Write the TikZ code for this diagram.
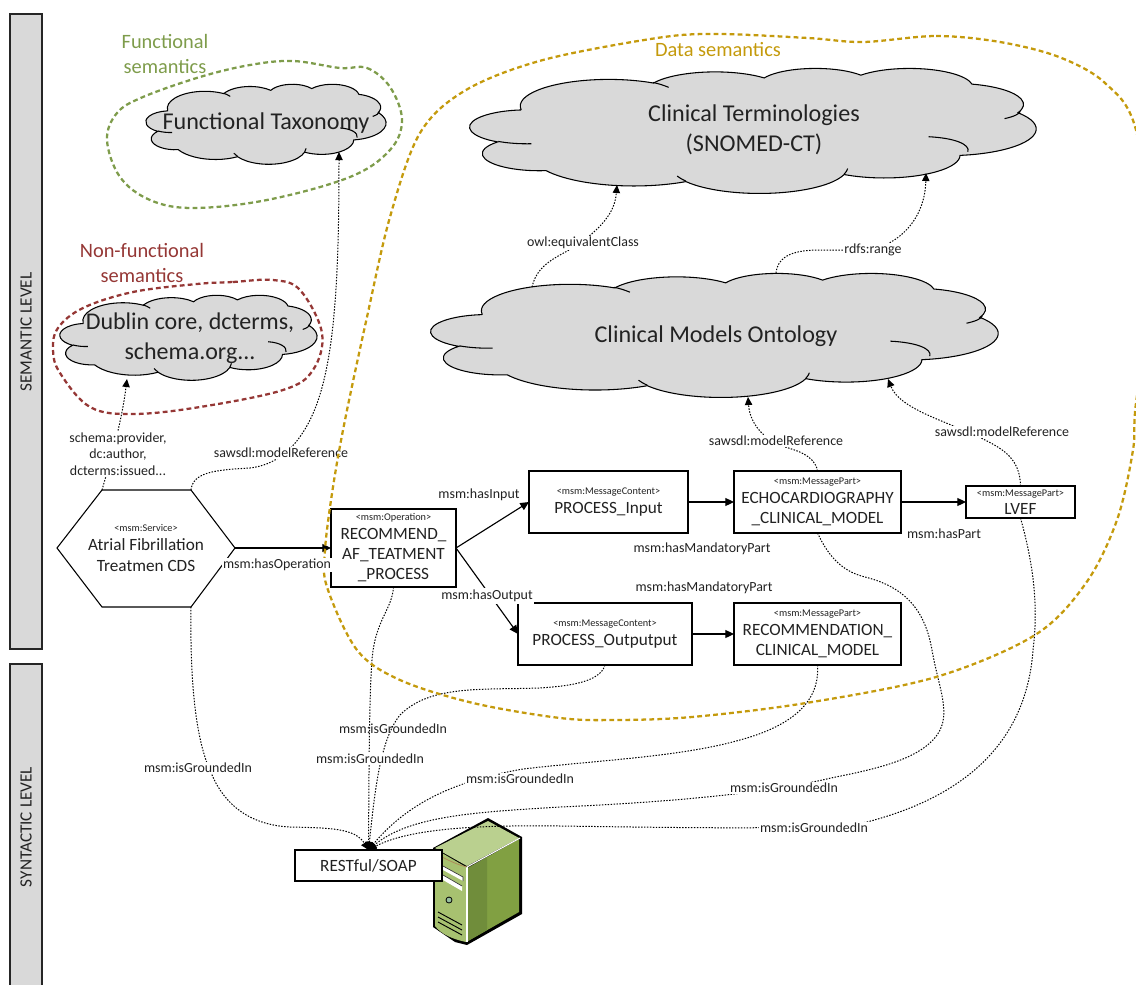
\documentclass[tikz,border=0pt]{standalone}
\usepackage{fontspec}
\setmainfont{Carlito}
\usetikzlibrary{arrows.meta}
\definecolor{cloudgray}{HTML}{D9D9D9}
\definecolor{goldline}{HTML}{C49A0C}
\definecolor{greenline}{HTML}{7E9C4B}
\definecolor{redline}{HTML}{953735}
\definecolor{textdark}{HTML}{222222}
\newcommand{\stereo}[1]{{\fontsize{7.7}{9}\selectfont #1}}
% one arc of the cloud outline: radii and angles of the outline, y pointing down
\newcommand{\carc}[4]{%
  \pgfmathsetmacro\tA{atan2(#1*sin(#3),#2*cos(#3))}%
  \pgfmathsetmacro\tB{atan2(#1*sin(#3+#4),#2*cos(#3+#4))}%
  \pgfmathsetmacro\tB{\tB<\tA ? \tB+360 : \tB}%
  \pgfpatharc{\tA}{\tB}{#1pt and #2pt}}
\newcommand{\cloudshape}[4]{%
  \begin{scope}[shift={(#1,#2)},xscale={.75*#3/432},yscale={-.75*#4/432}]
    \pgfsetlinewidth{.8pt}\pgfsetfillcolor{cloudgray}\pgfsetstrokecolor{black}
    \pgfpathmoveto{\pgfpoint{39pt}{143.7pt}}
    \carc{67.53}{91.9}{-190.49}{123.78}
    \carc{53.33}{72.67}{-144.10}{89.95}
    \carc{43.65}{59.45}{-145.81}{99.72}
    \carc{48.57}{65.95}{-130.99}{117.24}
    \carc{53.33}{72.73}{-78.71}{109.03}
    \carc{67.75}{92.2}{-46.27}{130.27}
    \carc{57.85}{78.67}{0.625}{114.03}
    \carc{67.52}{92.15}{22.45}{115.17}
    \carc{77.2}{105.43}{66.24}{75.71}
    \carc{43.6}{59.18}{-274.94}{146.74}
    \carc{43.45}{59.45}{-246.83}{152.52}
    \pgfpathclose
    \pgfusepath{fill,stroke}
    \pgfpathmoveto{\pgfpoint{46.93pt}{261.77pt}}\carc{43.45}{59.45}{86.74}{26.43}\pgfusepath{stroke}
    \pgfpathmoveto{\pgfpoint{164.78pt}{390.9pt}}\carc{67.52}{92.15}{137.63}{14.08}\pgfusepath{stroke}
    \pgfpathmoveto{\pgfpoint{288.27pt}{347.51pt}}\carc{67.52}{92.15}{6.45}{16}\pgfusepath{stroke}
    \pgfpathmoveto{\pgfpoint{350pt}{237.5pt}}\pgfpathcurveto{\pgfpoint{370pt}{242pt}}{\pgfpoint{382pt}{264pt}}{\pgfpoint{380pt}{289.6pt}}\pgfusepath{stroke}
    \pgfpathmoveto{\pgfpoint{408pt}{175pt}}\pgfpathcurveto{\pgfpoint{415pt}{168pt}}{\pgfpoint{419pt}{160pt}}{\pgfpoint{420pt}{150pt}}\pgfusepath{stroke}
    \pgfpathmoveto{\pgfpoint{139.5pt}{49.8pt}}\pgfpathcurveto{\pgfpoint{144pt}{54pt}}{\pgfpoint{148pt}{60pt}}{\pgfpoint{151.6pt}{66.9pt}}\pgfusepath{stroke}
  \end{scope}}
\tikzset{
  px/.style={x=.75pt,y=-.75pt},
  dotlink/.style={line width=.75pt,dash pattern=on 1.1pt off 1.1pt,-{Triangle[length=6pt,width=5.5pt]}},
  solidlink/.style={line width=.85pt,-{Triangle[length=6.5pt,width=6pt]}},
  labeltext/.style={font=\fontsize{10.45}{12.5}\selectfont,text=textdark,fill=white,inner sep=.8pt,align=center},
  plainlabel/.style={font=\fontsize{10.45}{12.5}\selectfont,text=textdark,inner sep=.8pt},
  boxn/.style={draw=black,line width=.8pt,fill=white,inner sep=0pt,outer sep=0pt,align=center,font=\fontsize{12.9}{15.3}\selectfont,text=textdark},
  cloudtext/.style={font=\fontsize{18.1}{22.5}\selectfont,text=textdark,align=center,inner sep=0pt},
  titletext/.style={font=\fontsize{15.3}{18.75}\selectfont,align=center,inner sep=0pt},
  barshape/.style={draw=black!85,line width=.9pt,fill=cloudgray},
  bartext/.style={font=\fontsize{12.9}{15}\selectfont,text=textdark,rotate=90,inner sep=0pt},
  region/.style={line width=1.7pt,dash pattern=on 3.6pt off 2.4pt,line cap=butt}
}
\begin{document}
\begin{tikzpicture}[px]
\useasboundingbox (0,0) rectangle (1136,985);
\clip (0,0) rectangle (1136,985);
% level bars
\draw[barshape] (10,14) rectangle (42,649);
\draw[barshape] (10,664) rectangle (42,1000);
\node[bartext] (semlevel) at (26,332) {SEMANTIC LEVEL};
\node[bartext] (synlevel) at (26,827) {SYNTACTIC LEVEL};
% clouds
\cloudshape{146}{84}{240}{80}
\cloudshape{60}{295}{257}{85}
\cloudshape{470}{68}{566}{125}
\cloudshape{431}{273}{567}{124}
\node[cloudtext] (tax) at (266,123) {Functional Taxonomy};
\node[cloudtext,font=\fontsize{18}{22.5}\selectfont] (dublin) at (190,338) {Dublin core, dcterms,\\schema.org...};
\node[cloudtext] (term) at (754,130) {Clinical Terminologies\\(SNOMED-CT)};
\node[cloudtext] (models) at (716,336) {Clinical Models Ontology};
% region titles
\node[titletext,text=greenline] (tfunc) at (165,53.5) {Functional\\semantics};
\node[titletext,text=redline] (tnon) at (142,262.5) {Non-functional\\semantics};
\node[titletext,text=goldline] (tdata) at (718,50) {Data semantics};
% green and red regions
\draw[region,greenline] plot[smooth cycle,tension=.6] coordinates {(340,68) (367,68) (390,87) (402,120) (390,150) (350,177) (267,200) (193,208) (150,200) (120,177) (107,140) (117,113) (143,97) (200,77) (250,65) (293,61)};
\draw[region,redline] plot[smooth cycle,tension=.6] coordinates {(197,284) (233,282) (273,280) (300,290) (322,333) (313,370) (283,390) (200,407) (133,414) (90,407) (60,373) (53,350) (58,328) (83,308) (133,292)};
% named ends
\coordinate (hexL) at (57,548);
\coordinate (hexTL) at (102,490);
\coordinate (hexTR) at (191,490);
\coordinate (hexR) at (235,548);
\coordinate (hexBR) at (191,607);
\coordinate (hexBL) at (102,607);
\coordinate (dublinTip) at (127,379);
\coordinate (taxTip) at (339,152);
\coordinate (modelsTipA) at (748,397);
\coordinate (modelsTipB) at (888,379);
\coordinate (modelsTopA) at (532,287);
\coordinate (modelsTopB) at (776,273);
\coordinate (termTipA) at (617,185);
\coordinate (termTipB) at (926,173);
% server
\fill[black] (488,818) -- (522,837) -- (522,914) -- (467,945) -- (455,942) -- (433,927) -- (433,848) -- cycle;
\fill[fill={rgb,255:red,167;green,193;blue,112}] (435,849) -- (466,867) -- (466,942) .. controls (452,939) and (441,934) .. (435,926) -- cycle;
\fill[fill={rgb,255:red,186;green,208;blue,143}] (488,821) -- (519,838) -- (467,866) -- (435,848) -- cycle;
\fill[fill={rgb,255:red,129;green,160;blue,66}] (468,868) -- (519,839) -- (519,912) -- (468,941) -- cycle;
\fill[fill={rgb,255:red,112;green,141;blue,59}] (468,868) -- (487,857) -- (487,930) -- (468,941) -- cycle;
\draw[white,line width=.8pt] (467,867) -- (520,838);
\draw[white,line width=.8pt] (467,867) -- (467,942);
\draw[draw={rgb,255:red,175;green,140;blue,90},line width=.6pt] (442,857) .. controls (450,861) and (458,865) .. (467,867);
\fill[white] (443,866) -- (463,877) -- (463,881) -- (443,870) -- cycle;
\fill[white] (443,875) -- (462,886) -- (462,891) -- (443,880) -- cycle;
\draw[black!80,line width=.5pt] (443,866) -- (463,877) -- (463,881);
\draw[black!80,line width=.5pt] (443,875) -- (462,886);
\filldraw[fill={rgb,255:red,150;green,190;blue,160},draw=black,line width=.6pt] (449,900) circle (3);
\foreach \vy in {912,917,922}{\draw[black,line width=.7pt] (438,\vy) -- (462,\vy+13);}
% hexagon
\filldraw[draw=black,line width=.8pt,fill=white] (hexL) -- (hexTL) -- (hexTR) -- (hexR) -- (hexBR) -- (hexBL) -- cycle;
\node[align=center,inner sep=0pt,font=\fontsize{12.9}{15.7}\selectfont,text=textdark] (hex) at (146,548) {\stereo{<msm:Service>}\\[-1pt]Atrial Fibrillation\\Treatmen CDS};
% message boxes
\node[boxn,minimum width=125*.75pt,minimum height=78*.75pt] (op) at (393.5,548) {\stereo{<msm:Operation>}\\[-1.5pt]RECOMMEND\_\\AF\_TEATMENT\\\_PROCESS};
\node[boxn,minimum width=159*.75pt,minimum height=62*.75pt] (input) at (608.5,502) {\stereo{<msm:MessageContent>}\\[-1.5pt]PROCESS\_Input};
\node[boxn,minimum width=167*.75pt,minimum height=62*.75pt] (echo) at (817.5,502) {\stereo{<msm:MessagePart>}\\[-1.5pt]ECHOCARDIOGRAPHY\\\_CLINICAL\_MODEL};
\node[boxn,minimum width=109*.75pt,minimum height=32*.75pt] (lvef) at (1020.5,502) {\stereo{<msm:MessagePart>}\\[-1.5pt]LVEF};
\node[boxn,minimum width=174*.75pt,minimum height=62*.75pt] (output) at (605,634) {\stereo{<msm:MessageContent>}\\[-1.5pt]PROCESS\_Outputput};
\node[boxn,minimum width=167*.75pt,minimum height=62*.75pt] (rec) at (817.5,634) {\stereo{<msm:MessagePart>}\\[-1.5pt]RECOMMENDATION\_\\CLINICAL\_MODEL};
\node[boxn,minimum width=147*.75pt,minimum height=31*.75pt] (rest) at (368.5,865.5) {RESTful/SOAP};
% solid links
\draw[solidlink] (hexR) -- (op.west);
\draw[solidlink] (op.east) -- (input.west);
\draw[solidlink] (op.east) -- (output.west);
\draw[solidlink] (input.east) -- (echo.west);
\draw[solidlink] (echo.east) -- (lvef.west);
\draw[solidlink] (output.east) -- (rec.west);
% dotted links
\draw[dotlink] (hexTL) .. controls (112,455) and (122,420) .. (dublinTip);
\draw[dotlink] (hexTR) .. controls (193,472) and (215,470) .. (250,468) .. controls (275,465) and (295,450) .. (310,420) .. controls (335,370) and (339,280) .. (taxTip);
\draw[dotlink] (modelsTopA) .. controls (538,260) and (565,255) .. (580,243) .. controls (605,225) and (615,210) .. (termTipA);
\draw[dotlink] (modelsTopB) .. controls (778,255) and (795,250) .. (820,250) -- (873,250) .. controls (905,240) and (925,215) .. (termTipB);
\draw[dotlink] (echo.north) .. controls (815,455) and (795,450) .. (785,447) .. controls (765,440) and (750,425) .. (modelsTipA);
\draw[dotlink] (lvef.north) .. controls (1020,460) and (1005,450) .. (985,440) .. controls (950,422) and (900,410) .. (modelsTipB);
\draw[dotlink] (hexBR) .. controls (190,680) and (195,740) .. (212,775) .. controls (225,805) and (250,825) .. (290,827) .. controls (330,828) and (355,828) .. (rest.north);
\draw[dotlink] (op.south) .. controls (392,610) and (375,620) .. (372,660) .. controls (369,700) and (369,780) .. (rest.north);
\draw[dotlink] (output.south) .. controls (600,682) and (570,686) .. (540,688) .. controls (480,690) and (430,685) .. (400,715) .. controls (380,740) and (375,790) .. (rest.north);
\draw[dotlink] (rec.south) .. controls (820,700) and (795,725) .. (740,740) .. controls (680,757) and (600,760) .. (523,769) .. controls (460,780) and (410,800) .. (rest.north);
\draw[dotlink] (echo.south) .. controls (830,560) and (845,572) .. (865,577) .. controls (905,587) and (925,610) .. (932,650) .. controls (938,685) and (950,710) .. (940,730) .. controls (925,760) and (870,770) .. (831,778) .. controls (760,795) and (650,803) .. (560,807) .. controls (480,812) and (410,815) .. (rest.north);
\draw[dotlink] (lvef.south) .. controls (1035,570) and (1038,610) .. (1033,650) .. controls (1028,720) and (990,790) .. (867,822) .. controls (830,830) and (700,828) .. (560,826) .. controls (480,825) and (410,828) .. (rest.north);
% labels on dotted links
\node[labeltext] (lprov) at (118,454) {schema:provider,\\dc:author,\\dcterms:issued...};
\node[labeltext] (lsaw1) at (281,453) {sawsdl:modelReference};
\node[labeltext] (lsaw2) at (776,441) {sawsdl:modelReference};
\node[labeltext] (lsaw3) at (1002,432) {sawsdl:modelReference};
\node[labeltext] (lowl) at (583,243) {owl:equivalentClass};
\node[labeltext] (lrange) at (873,250) {rdfs:range};
\node[labeltext] (lgr1) at (198,768) {msm:isGroundedIn};
\node[plainlabel] (lgr2) at (393,729) {msm:isGroundedIn};
\node[labeltext] (lgr3) at (370,759) {msm:isGroundedIn};
\node[labeltext] (lgr4) at (520,779) {msm:isGroundedIn};
\node[labeltext] (lgr5) at (784,788) {msm:isGroundedIn};
\node[labeltext] (lgr6) at (814,828) {msm:isGroundedIn};
\node[labeltext] (lin) at (479,495) {msm:hasInput};
\node[labeltext,minimum height=11.5pt] (lout) at (487,596) {msm:hasOutput};
\node[labeltext] (lmand1) at (702,549) {msm:hasMandatoryPart};
\node[labeltext] (lmand2) at (704,588) {msm:hasMandatoryPart};
\node[labeltext] (lpart) at (944,534) {msm:hasPart};
% data semantics region
\draw[region,goldline] plot[smooth cycle,tension=.55] coordinates {(863,42) (936,36) (1000,42) (1059,57) (1105,83) (1136,130) (1155,270) (1136,403) (1133,450) (1117,520) (1086,583) (1035,635) (936,677) (806,703) (692,717) (616,720) (560,718) (473,703) (400,680) (357,650) (327,587) (325,550) (333,487) (345,420) (367,317) (390,217) (420,133) (466,90) (543,60) (657,38) (717,34) (808,38)};
\node[labeltext] (lop) at (277,565) {msm:hasOperation};
\end{tikzpicture}
\end{document}
